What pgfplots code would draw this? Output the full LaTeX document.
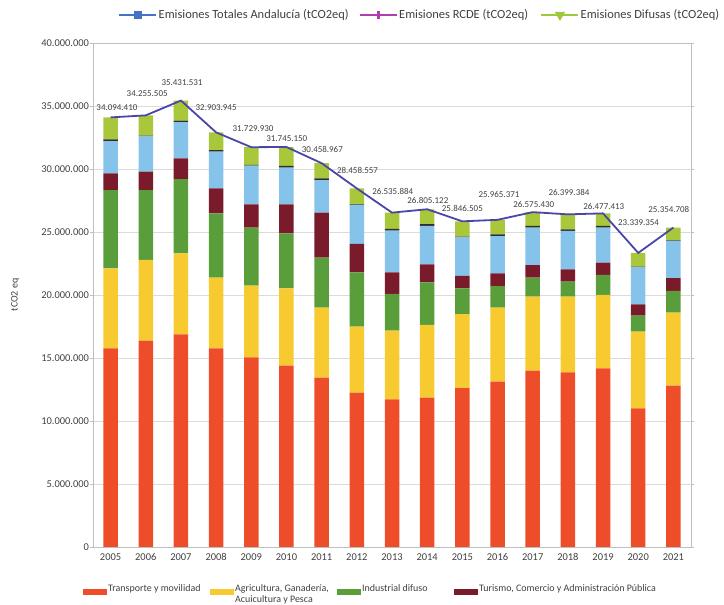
\documentclass[border=0pt]{standalone}
\usepackage{fontspec}
\setmainfont{Carlito}
\usepackage{pgfplots}
\usepackage{pgfplotstable}
\pgfplotsset{compat=1.18}
\definecolor{cTrans}{HTML}{EE4D2A}
\definecolor{cAgri}{HTML}{F7CB2F}
\definecolor{cInd}{HTML}{5A9D3B}
\definecolor{cTur}{HTML}{7A1B2B}
\definecolor{cRes}{HTML}{86C3EA}
\definecolor{cDark}{HTML}{2E2E2E}
\definecolor{cTop}{HTML}{A9C73A}
\definecolor{cLine}{HTML}{4A46A8}
\definecolor{cLegBlue}{HTML}{4472C4}
\definecolor{cMag}{HTML}{B03EB0}
\definecolor{cLegGreen}{HTML}{9BCB3C}
\definecolor{txt}{HTML}{404040}
\tikzset{lbl/.style={font=\fontsize{9}{10}\selectfont, text=txt, inner sep=0pt}}

\pgfplotstableread{
year trans agri ind tur res dk top total
2005 15.77 6.35 6.21 1.32 2.55 0.15 1.744410 34.094410
2006 16.37 6.41 5.55 1.46 2.80 0.05 1.615505 34.255505
2007 16.88 6.42 5.90 1.65 2.85 0.13 1.601531 35.431531
2008 15.77 5.60 5.11 1.99 2.90 0.13 1.403945 32.903945
2009 15.05 5.69 4.60 1.86 3.07 0.05 1.409930 31.729930
2010 14.39 6.14 4.37 2.30 2.90 0.14 1.505150 31.745150
2011 13.44 5.55 3.97 3.58 2.56 0.16 1.198967 30.458967
2012 12.25 5.23 4.32 2.25 3.09 0.05 1.268557 28.458557
2013 11.72 5.45 2.91 1.72 3.30 0.14 1.295884 26.535884
2014 11.85 5.77 3.39 1.43 3.04 0.15 1.175122 26.805122
2015 12.60 5.89 2.04 0.98 3.07 0.05 1.216505 25.846505
2016 13.12 5.87 1.72 1.01 2.96 0.14 1.145371 25.965371
2017 13.99 5.88 1.50 1.01 2.96 0.14 1.095430 26.575430
2018 13.86 6.01 1.19 0.98 3.04 0.13 1.189384 26.399384
2019 14.18 5.82 1.59 0.97 2.78 0.14 0.997413 26.477413
2020 11.01 6.08 1.27 0.90 2.94 0.05 1.089354 23.339354
2021 12.80 5.80 1.72 1.01 2.96 0.05 1.014708 25.354708
}\datatable

\begin{document}
\begin{tikzpicture}
\useasboundingbox (0,0) rectangle (724bp,605bp);
\begin{axis}[
  at={(93bp,58bp)}, anchor=south west,
  scale only axis, width=598bp, height=504bp,
  ybar stacked, bar width=14.5bp,
  xmin=2004.5, xmax=2021.5, ymin=0, ymax=40,
  xtick={2005,2006,2007,2008,2009,2010,2011,2012,2013,2014,2015,2016,2017,2018,2019,2020,2021},
  xticklabels={2005,2006,2007,2008,2009,2010,2011,2012,2013,2014,2015,2016,2017,2018,2019,2020,2021},
  ytick={0,5,10,15,20,25,30,35,40},
  yticklabels={0,5.000.000,10.000.000,15.000.000,20.000.000,25.000.000,30.000.000,35.000.000,40.000.000},
  ymajorgrids, grid style={draw=gray!28, line width=0.7bp},
  axis line style={draw=gray!50, line width=0.7bp},
  x tick style={draw=none}, y tick style={draw=gray!50, line width=0.7bp},
  tick align=outside, major tick length=3bp,
  ticklabel style={font=\fontsize{10.5}{12}\selectfont, text=txt},
  yticklabel style={xshift=2.5bp},
  ylabel={tCO2 eq},
  ylabel style={at={(axis description cs:-0.13,0.5)}, anchor=center, font=\fontsize{10}{12}\selectfont, text=txt},
  legend columns=4,
  legend style={at={(axis description cs:-0.0167,-0.072)}, anchor=north west, draw=none, fill=none,
    font=\fontsize{10}{11}\selectfont, text=txt, inner sep=0pt,
    nodes={inner sep=1bp},
    /tikz/every even column/.append style={column sep=1bp}},
  legend image code/.code={\fill[#1] (0bp,-3bp) rectangle (24bp,3bp);},
]
\addplot[fill=cTrans, draw=none] table[x=year,y=trans]{\datatable};
\addlegendentry{\parbox[c][22bp][t]{100bp}{Transporte y movilidad}}
\addplot[fill=cAgri, draw=none] table[x=year,y=agri]{\datatable};
\addlegendentry{\parbox[c][22bp][t]{100bp}{Agricultura, Ganadería,\\Acuicultura y Pesca}}
\addplot[fill=cInd, draw=none] table[x=year,y=ind]{\datatable};
\addlegendentry{\parbox[c][22bp][t]{90bp}{Industrial difuso}}
\addplot[fill=cTur, draw=none] table[x=year,y=tur]{\datatable};
\addlegendentry{\parbox[c][22bp][t]{200bp}{Turismo, Comercio y Administración Pública}}
\addplot[fill=cRes, draw=none, forget plot] table[x=year,y=res]{\datatable};
\addplot[fill=cDark, draw=none, forget plot] table[x=year,y=dk]{\datatable};
\addplot[fill=cTop, draw=none, forget plot] table[x=year,y=top]{\datatable};
\end{axis}

\begin{axis}[
  at={(93bp,58bp)}, anchor=south west,
  scale only axis, width=598bp, height=504bp,
  xmin=2004.5, xmax=2021.5, ymin=0, ymax=40,
  hide axis, clip=false,
  legend columns=3,
  legend style={at={(axis description cs:0.0418,1.0556)}, anchor=west, draw=none, fill=none,
    font=\fontsize{12.5}{14}\selectfont, text=txt, inner sep=0pt,
    nodes={inner sep=1bp},
    /tikz/every even column/.append style={column sep=3bp}},
  legend image code/.code={\draw[#1, mark repeat=2, mark phase=2] plot coordinates {(0bp,0bp) (18.5bp,0bp) (37bp,0bp)};},
]
\addplot[cLine, line width=1.8bp, forget plot] table[x=year,y=total]{\datatable};
\addlegendimage{cLegBlue, line width=2.5bp, mark=square*, mark size=2.6bp}
\addlegendentry{\makebox[196bp][l]{Emisiones Totales Andalucía (tCO2eq)}}
\addlegendimage{cMag, line width=2.5bp, mark=|, mark size=4bp, mark options={line width=2.5bp}}
\addlegendentry{\makebox[137bp][l]{Emisiones RCDE (tCO2eq)}}
\addlegendimage{cLegGreen, line width=2.5bp, mark=triangle*, mark size=3.5bp, mark options={rotate=180}}
\addlegendentry{Emisiones Difusas (tCO2eq)}
\node[lbl] at (axis cs:2005.18,34.84) {34.094.410};
\node[lbl] at (axis cs:2006.04,35.95) {34.255.505};
\node[lbl] at (axis cs:2007.03,36.83) {35.431.531};
\node[lbl] at (axis cs:2008.00,34.84) {32.903.945};
\node[lbl] at (axis cs:2009.05,33.17) {31.729.930};
\node[lbl] at (axis cs:2010.01,32.40) {31.745.150};
\node[lbl] at (axis cs:2011.02,31.56) {30.458.967};
\node[lbl] at (axis cs:2012.02,29.92) {28.458.557};
\node[lbl] at (axis cs:2013.02,28.20) {26.535.884};
\node[lbl] at (axis cs:2014.02,27.54) {26.805.122};
\node[lbl] at (axis cs:2015.00,26.88) {25.846.505};
\node[lbl] at (axis cs:2016.04,27.94) {25.965.371};
\node[lbl] at (axis cs:2017.03,27.22) {26.575.430};
\node[lbl] at (axis cs:2018.03,28.10) {26.399.384};
\node[lbl] at (axis cs:2019.02,27.06) {26.477.413};
\node[lbl] at (axis cs:2020.01,25.71) {23.339.354};
\node[lbl] at (axis cs:2020.87,26.75) {25.354.708};
\end{axis}
\end{tikzpicture}
\end{document}
